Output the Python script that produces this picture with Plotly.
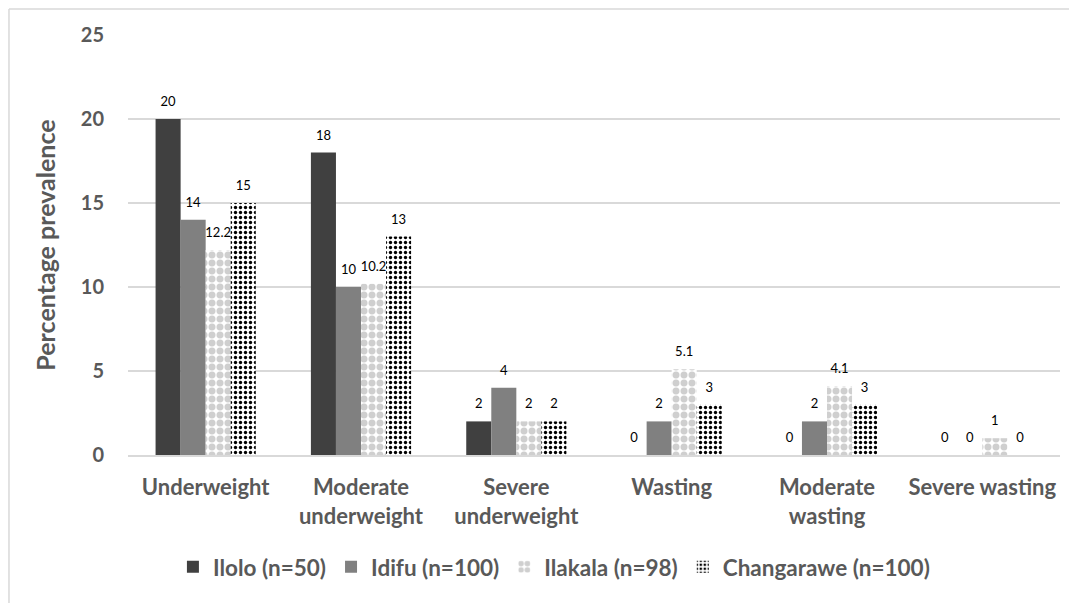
import plotly.graph_objects as go

categories = ["Underweight", "Moderate<br>underweight", "Severe<br>underweight",
              "Wasting", "Moderate<br>wasting", "Severe wasting"]
ilolo = [20, 18, 2, 0, 0, 0]
idifu = [14, 10, 4, 2, 2, 0]
ilakala = [12.2, 10.2, 2, 5.1, 4.1, 1]
changarawe = [15, 13, 2, 3, 3, 0]
series_names = ["Ilolo (n=50)", "Idifu (n=100)", "Ilakala (n=98)", "Changarawe (n=100)"]
y_ticks = [0, 5, 10, 15, 20, 25]

FONT = "Lato, 'Open Sans', sans-serif"
GRAY = "#595959"
GAP = 0.355

fig = go.Figure()

styles = [
    dict(color="#404040"),
    dict(color="#808080"),
    dict(color="white", pattern=dict(shape=".", fgcolor="#cfcfcf", bgcolor="white",
                                     size=8, solidity=0.6, fillmode="replace")),
    dict(color="white", pattern=dict(shape=".", fgcolor="black", bgcolor="white",
                                     size=5, solidity=0.35, fillmode="replace")),
]

all_vals = [ilolo, idifu, ilakala, changarawe]

for name, vals, st in zip(series_names, all_vals, styles):
    fig.add_trace(go.Bar(
        x=categories, y=vals, name=name,
        marker=dict(line=dict(width=0), **st),
        hoverinfo="x+y",
    ))

# value labels, grouped like the bars
for name, vals in zip(series_names, all_vals):
    fig.add_trace(go.Scatter(
        x=categories, y=vals, mode="markers+text", showlegend=False,
        marker=dict(size=14, opacity=0, color="white"),
        text=[f"{v:g}" for v in vals], textposition="top center",
        textfont=dict(family=FONT, size=13, color="black"),
        cliponaxis=False, hoverinfo="skip",
    ))

fig.update_layout(
    width=1069, height=595,
    paper_bgcolor="white", plot_bgcolor="white",
    margin=dict(l=120, r=17, t=27, b=148),
    barmode="group", bargap=GAP, bargroupgap=0,
    scattermode="group", scattergap=GAP,
    font=dict(family=FONT, color=GRAY),
    showlegend=True,
    legend=dict(orientation="h", x=0.457, xanchor="center", y=-0.267, yanchor="middle",
                font=dict(family=FONT, size=22.5, color=GRAY, weight="bold"),
                itemwidth=30, tracegroupgap=0),
    yaxis=dict(range=[0, 25], tickvals=y_ticks, showgrid=True, gridcolor="#d9d9d9",
               gridwidth=1.5, zeroline=False, showline=False,
               tickfont=dict(family=FONT, size=20, color=GRAY, weight="bold"),
               ticklabelstandoff=23,
               title=dict(text="Percentage prevalence", standoff=18,
                          font=dict(family=FONT, size=25, color=GRAY, weight="bold"))),
    xaxis=dict(showline=True, linecolor="#d9d9d9", linewidth=1.5, ticks="",
               tickfont=dict(family=FONT, size=22, color=GRAY, weight="bold"),
               ticklabelstandoff=12),
    shapes=[
        dict(type="line", xref="paper", yref="paper", x0=-0.1277, x1=1.02, y0=1.062, y1=1.062,
             line=dict(color="#d9d9d9", width=1.5)),
        dict(type="line", xref="paper", yref="paper", x0=-0.1277, x1=-0.1277, y0=1.062, y1=-0.36,
             line=dict(color="#d9d9d9", width=1.5)),
    ],
)

fig.write_html("out.html")
